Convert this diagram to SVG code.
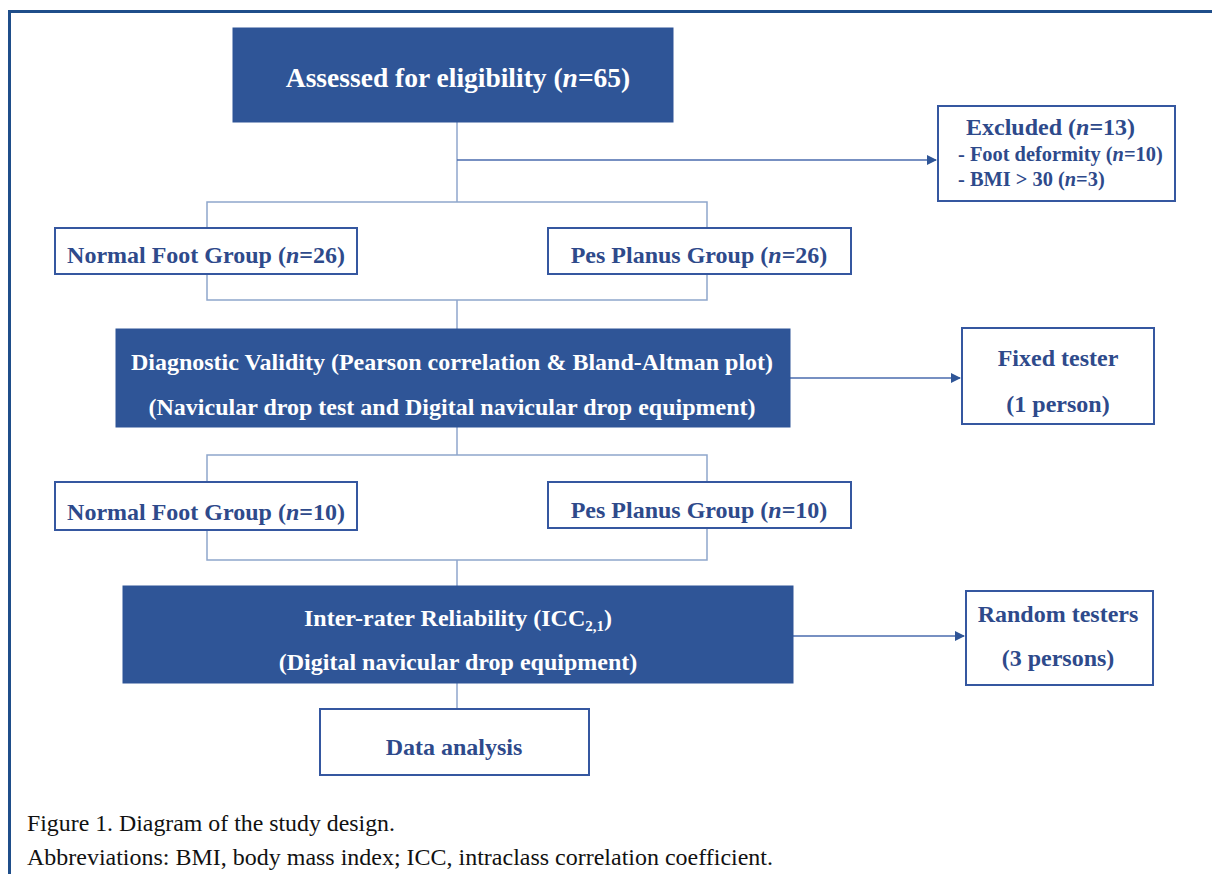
<svg xmlns="http://www.w3.org/2000/svg" width="1212" height="874" viewBox="0 0 1212 874">
<style>
.dark{fill:#2F5597;stroke:#2F5597;stroke-width:1}
.light{fill:#ffffff;stroke:#3557A0;stroke-width:2}
.tw{font-family:"Liberation Serif","Times New Roman",serif;font-weight:bold;fill:#ffffff;text-anchor:middle}
.tb{font-family:"Liberation Serif","Times New Roman",serif;font-weight:bold;fill:#2E4A8B;text-anchor:middle}
.tl{font-family:"Liberation Serif","Times New Roman",serif;font-weight:bold;fill:#2E4A8B}
.cap{font-family:"Liberation Serif","Times New Roman",serif;fill:#111111;font-size:23px}
.ln{fill:none;stroke:#8FA6CC;stroke-width:1.5}
.ar{fill:none;stroke:#4A6BAE;stroke-width:1.5}
</style>
<defs>
<marker id="ah" markerWidth="10" markerHeight="10" refX="9" refY="5" orient="auto" markerUnits="userSpaceOnUse">
<path d="M0,0 L10,5 L0,10 Z" fill="#2F5597"/>
</marker>
</defs>
<rect x="0" y="0" width="1212" height="874" fill="#ffffff"/>
<path d="M9.5,874 V11.5 H1212" fill="none" stroke="#1F4E8A" stroke-width="3"/>

<g id="connectors">
<path class="ln" d="M457,122 V202"/>
<path class="ar" d="M457,160 H936" marker-end="url(#ah)"/>
<path class="ln" d="M207,228 V202 H707 V228"/>
<path class="ln" d="M207,274 V300 H707 V274"/>
<path class="ln" d="M457,300 V329"/>
<path class="ar" d="M790,378 H960" marker-end="url(#ah)"/>
<path class="ln" d="M457,427 V455"/>
<path class="ln" d="M207,482 V455 H707 V482"/>
<path class="ln" d="M207,530 V560 H707 V528"/>
<path class="ln" d="M457,560 V586"/>
<path class="ar" d="M793,636 H964" marker-end="url(#ah)"/>
<path class="ln" d="M457,683 V709"/>
</g>

<g id="assessed">
<rect class="dark" x="233" y="28" width="440" height="94"/>
<text class="tw" x="458" y="87" font-size="27.5">Assessed for eligibility (<tspan font-style="italic">n</tspan>=65)</text>
</g>

<g id="excluded">
<rect class="light" x="938" y="106" width="237" height="95"/>
<text class="tl" x="966" y="135" font-size="24">Excluded (<tspan font-style="italic">n</tspan>=13)</text>
<text class="tl" x="958" y="161" font-size="20.4">- Foot deformity (<tspan font-style="italic">n</tspan>=10)</text>
<text class="tl" x="958" y="186" font-size="20.4">- BMI &gt; 30 (<tspan font-style="italic">n</tspan>=3)</text>
</g>

<g id="normal26">
<rect class="light" x="55" y="228" width="302" height="46"/>
<text class="tb" x="206" y="263" font-size="24">Normal Foot Group (<tspan font-style="italic">n</tspan>=26)</text>
</g>

<g id="planus26">
<rect class="light" x="548" y="228" width="303" height="46"/>
<text class="tb" x="699" y="263" font-size="24">Pes Planus Group (<tspan font-style="italic">n</tspan>=26)</text>
</g>

<g id="validity">
<rect class="dark" x="116" y="329" width="674" height="98"/>
<text class="tw" x="452" y="370" font-size="24">Diagnostic Validity (Pearson correlation &amp; Bland-Altman plot)</text>
<text class="tw" x="452" y="415" font-size="24">(Navicular drop test and Digital navicular drop equipment)</text>
</g>

<g id="fixed">
<rect class="light" x="962" y="328" width="192" height="96"/>
<text class="tb" x="1058" y="366" font-size="24">Fixed tester</text>
<text class="tb" x="1058" y="412" font-size="24">(1 person)</text>
</g>

<g id="normal10">
<rect class="light" x="55" y="482" width="302" height="48"/>
<text class="tb" x="206" y="520" font-size="24">Normal Foot Group (<tspan font-style="italic">n</tspan>=10)</text>
</g>

<g id="planus10">
<rect class="light" x="548" y="482" width="303" height="46"/>
<text class="tb" x="699" y="518" font-size="24">Pes Planus Group (<tspan font-style="italic">n</tspan>=10)</text>
</g>

<g id="reliability">
<rect class="dark" x="123" y="586" width="670" height="97"/>
<text class="tw" x="458" y="626" font-size="24">Inter-rater Reliability (ICC<tspan font-size="15" dy="5">2,1</tspan><tspan dy="-5">)</tspan></text>
<text class="tw" x="458" y="670" font-size="24">(Digital navicular drop equipment)</text>
</g>

<g id="random">
<rect class="light" x="966" y="591" width="187" height="94"/>
<text class="tb" x="1058" y="622" font-size="24">Random testers</text>
<text class="tb" x="1058" y="666" font-size="24">(3 persons)</text>
</g>

<g id="analysis">
<rect class="light" x="320" y="709" width="269" height="66"/>
<text class="tb" x="454" y="755" font-size="24">Data analysis</text>
</g>

<g id="caption">
<text class="cap" x="27" y="831" textLength="368" lengthAdjust="spacingAndGlyphs">Figure 1. Diagram of the study design.</text>
<text class="cap" x="27" y="865" textLength="746" lengthAdjust="spacingAndGlyphs">Abbreviations: BMI, body mass index; ICC, intraclass correlation coefficient.</text>
</g>
</svg>
